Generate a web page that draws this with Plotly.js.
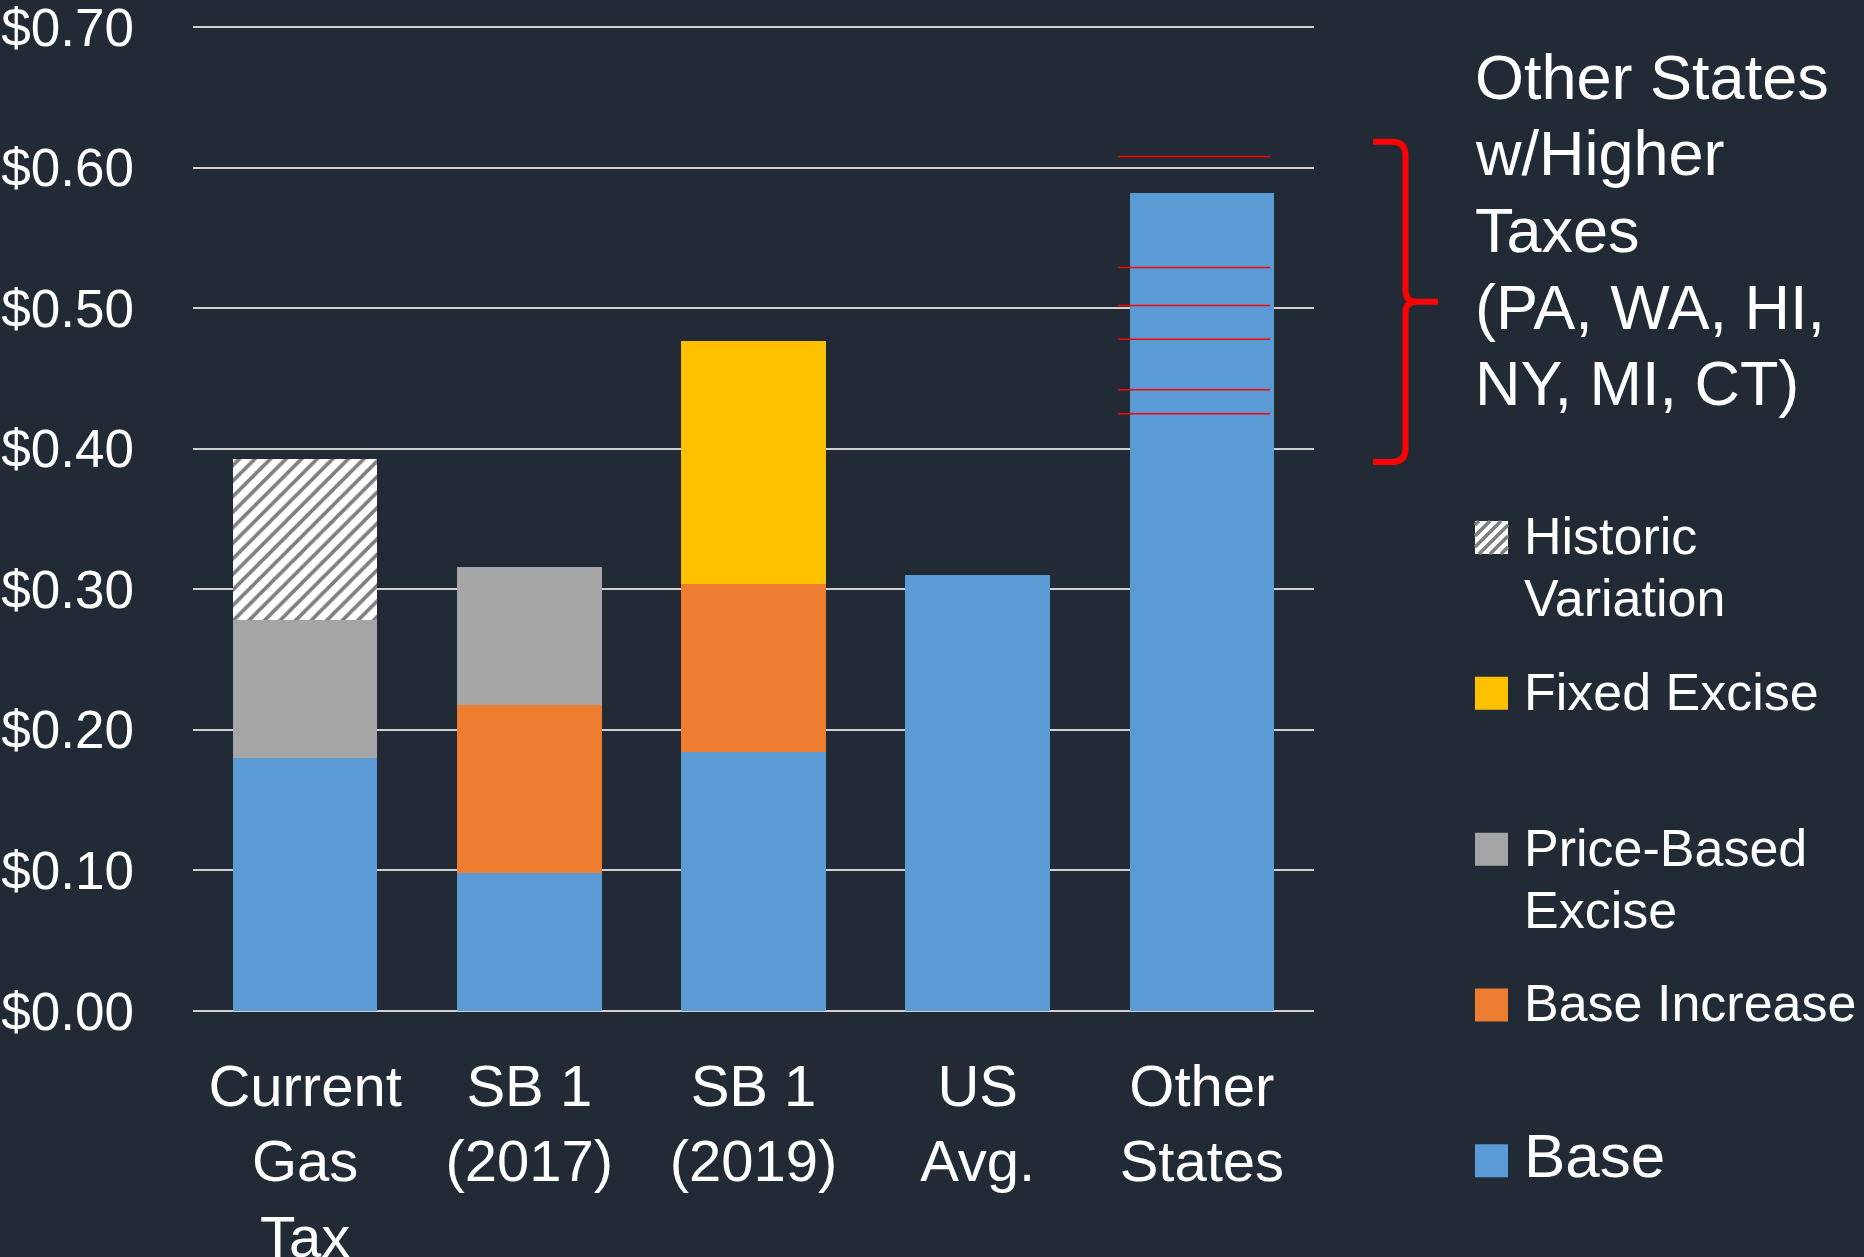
<!DOCTYPE html>
<html>
<head>
<meta charset="utf-8">
<script src="https://cdn.plot.ly/plotly-3.0.1.min.js"></script>
<style>
  html, body { margin: 0; padding: 0; background: #222A35; }
  #chart { width: 1864px; height: 1257px; }
</style>
</head>
<body>
<div id="chart"></div>
<script>
// ---- data ----
const categories = ['Current<br>Gas<br>Tax', 'SB 1<br>(2017)', 'SB 1<br>(2019)', 'US<br>Avg.', 'Other<br>States'];
const base              = [0.180, 0.098, 0.184, 0.310, 0.582];
const baseIncrease      = [null, 0.120, 0.120, null, null];
const priceBased        = [0.098, 0.098, null, null, null];
const fixedExcise       = [null, null, 0.173, null, null];
const historicVariation = [0.115, null, null, null, null];
// individual higher-tax states (PA, WA, HI, NY, MI, CT), drawn as red ticks on "Other States"
const otherStatesRates  = [0.608, 0.529, 0.502, 0.478, 0.442, 0.425];
const yTicks = [0, 0.1, 0.2, 0.3, 0.4, 0.5, 0.6, 0.7];
const yTickText = ['$0.00', '$0.10', '$0.20', '$0.30', '$0.40', '$0.50', '$0.60', '$0.70'];
const noteLines = ['Other States', 'w/Higher', 'Taxes', '(PA, WA, HI,', 'NY, MI, CT)'];

// series (stack order bottom -> top)
const seriesNames  = ['Base', 'Base Increase', 'Price-Based Excise', 'Fixed Excise', 'Historic Variation'];
const legendLines  = [['Base'], ['Base Increase'], ['Price-Based', 'Excise'], ['Fixed Excise'], ['Historic', 'Variation']];
const seriesValues = [base, baseIncrease, priceBased, fixedExcise, historicVariation];
const seriesColors = ['#5B9BD5', '#ED7D31', '#A5A5A5', '#FFC000', '#FFFFFF'];

const FONT = 'Liberation Sans, Arial, sans-serif';
const BG = '#222A35';
// plot area: value 0.70 sits at pixel 27, value 0 at pixel 1011
const Y_MAX = 0.703;
const PPU = (1011 - 27) / 0.7;
const L = 193, W = 1121;
const T = 1011 - Y_MAX * PPU, H = 1011 - T;
const PX = x => (x - L) / W;                         // pixel -> paper
const PY = y => (1011 - y) / H;

const traces = seriesNames.map((name, i) => {
  const t = {
    type: 'bar', name: name, x: categories, y: seriesValues[i],
    marker: { color: seriesColors[i], line: { width: 0 } },
    hoverinfo: 'name+y', showlegend: false
  };
  if (name === 'Historic Variation') {
    t.marker.pattern = { shape: '/', fgcolor: '#7F7F7F', bgcolor: '#FFFFFF', size: 11, solidity: 0.33, fillmode: 'replace' };
  }
  return t;
});

const shapes = [];
// red ticks for individual states
otherStatesRates.forEach(v => {
  shapes.push({ type: 'line', xref: 'x', yref: 'y', x0: 3.626, x1: 4.304, y0: v, y1: v,
                line: { color: '#FF0000', width: 1.5 }, layer: 'above' });
});

// curly brace
const bracePts = [
  ['M', 1373, 141.5], ['L', 1392, 141.5], ['Q', 1405.5, 141.5, 1405.5, 155], ['L', 1405.5, 290],
  ['Q', 1405.5, 301.7, 1417, 301.7], ['L', 1438, 301.7], ['M', 1417, 301.7],
  ['Q', 1405.5, 301.7, 1405.5, 313], ['L', 1405.5, 449], ['Q', 1405.5, 462, 1392, 462], ['L', 1373, 462]
];
const bracePath = bracePts.map(p => {
  let s = p[0];
  for (let k = 1; k < p.length; k += 2) s += (k > 1 ? ' ' : '') + PX(p[k]).toFixed(5) + ',' + PY(p[k + 1]).toFixed(5);
  return s;
}).join(' ');
shapes.push({ type: 'path', xref: 'paper', yref: 'paper', path: bracePath,
              line: { color: '#FF0000', width: 6 }, fillcolor: 'rgba(0,0,0,0)' });

const annotations = [];
// note text
noteLines.forEach((line, i) => {
  const baseline = 98.3 + i * 76.7, fs = 63;
  annotations.push({ xref: 'paper', yref: 'paper', x: PX(1473), y: PY(baseline - 0.3465 * fs),
    xanchor: 'left', yanchor: 'middle', text: line, showarrow: false,
    font: { family: FONT, size: fs, color: '#FFFFFF' } });
});

// manual legend (top -> bottom = reverse of stack order)
const SW = 33, SX = 1475, STOP = 521, STEP = 155.8;
for (let j = 0; j < seriesNames.length; j++) {
  const i = seriesNames.length - 1 - j;
  const top = STOP + j * STEP;
  const fs = seriesNames[i] === 'Base' ? 62 : 52;
  shapes.push({ type: 'rect', xref: 'paper', yref: 'paper', x0: PX(SX), x1: PX(SX + SW), y0: PY(top + SW), y1: PY(top),
                fillcolor: seriesColors[i], line: { width: 0 } });
  if (seriesNames[i] === 'Historic Variation') {
    // hatch stripes "/" inside the swatch
    const period = 11;
    for (let c = SX + top + 4; c < SX + top + 2 * SW; c += period) {
      const xa = Math.max(SX, c - (top + SW)), xb = Math.min(SX + SW, c - top);
      if (xb - xa < 1) continue;
      shapes.push({ type: 'line', xref: 'paper', yref: 'paper', x0: PX(xa), y0: PY(c - xa), x1: PX(xb), y1: PY(c - xb),
                    line: { color: '#7F7F7F', width: 3.5 } });
    }
  }
  legendLines[i].forEach((line, k) => {
    const baseline = top + SW + k * 62;
    annotations.push({ xref: 'paper', yref: 'paper', x: PX(1522), y: PY(baseline - 0.3465 * fs),
      xanchor: 'left', yanchor: 'middle', text: line, showarrow: false,
      font: { family: FONT, size: fs, color: '#FFFFFF' } });
  });
}

const layout = {
  width: 1864, height: 1257,
  paper_bgcolor: BG, plot_bgcolor: BG,
  margin: { l: L, r: 1864 - L - W, t: T, b: 1257 - 1011, pad: 0 },
  barmode: 'stack', bargap: 0.355,
  showlegend: false,
  font: { family: FONT, color: '#FFFFFF' },
  xaxis: {
    type: 'category', showgrid: false, zeroline: false, showline: false, ticks: '',
    tickfont: { family: FONT, size: 58, color: '#FFFFFF' }, ticklabelstandoff: 36,
    ticklabeloverflow: 'allow'
  },
  yaxis: {
    range: [0, Y_MAX], tickmode: 'array', tickvals: yTicks, ticktext: yTickText,
    showgrid: true, gridcolor: '#D0D0D0', gridwidth: 2,
    zeroline: true, zerolinecolor: '#D0D0D0', zerolinewidth: 2,
    showline: false, ticks: '',
    tickfont: { family: FONT, size: 53, color: '#FFFFFF' }, ticklabelstandoff: 58,
    ticklabeloverflow: 'allow'
  },
  shapes: shapes,
  annotations: annotations
};

Plotly.newPlot('chart', traces, layout, { displayModeBar: false, staticPlot: true });
</script>
</body>
</html>
